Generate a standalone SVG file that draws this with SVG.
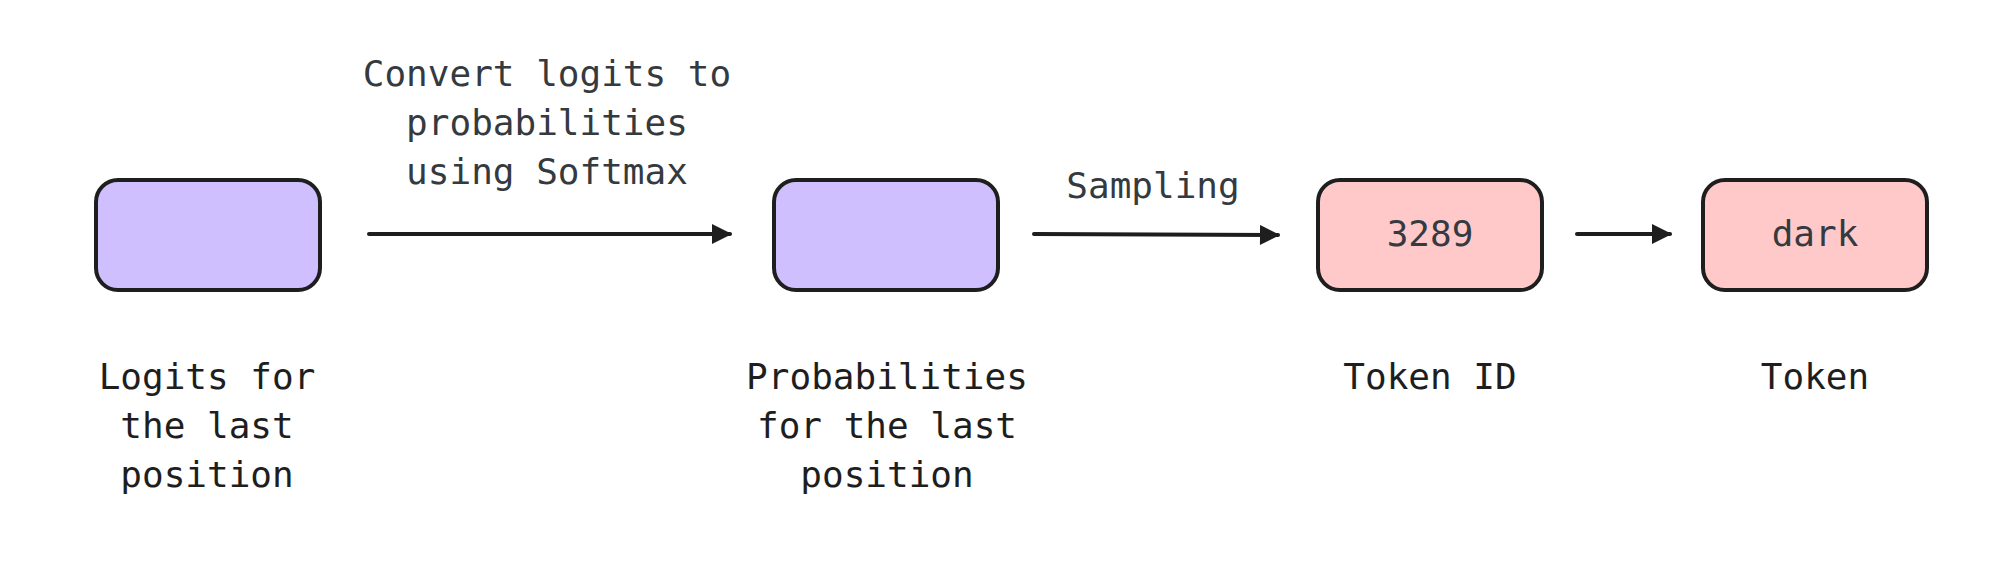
<svg xmlns="http://www.w3.org/2000/svg" width="2014" height="578" viewBox="0 0 2014 578">
<defs>
<style>
.box{stroke:#1e1e1e;stroke-width:4}
.violet{fill:#d0bfff}
.red{fill:#ffc9c9}
.t{font-family:"DejaVu Sans Mono","Liberation Mono",monospace;font-size:36px;text-anchor:middle}
.dark{fill:#1e1e1e}
.slate{fill:#343a40}
.conn{stroke:#1e1e1e;stroke-width:4;fill:none;stroke-linecap:round}
</style>
<marker id="ah" viewBox="0 0 10 10" refX="9" refY="5" markerWidth="5.5" markerHeight="5" orient="auto" markerUnits="strokeWidth">
<path d="M0,0 L10,5 L0,10 z" fill="#1e1e1e"/>
</marker>
</defs>
<rect width="2014" height="578" fill="#ffffff"/>
<g id="connectors">
<line class="conn" x1="369" y1="234" x2="730" y2="234" marker-end="url(#ah)"/>
<line class="conn" x1="1034" y1="234" x2="1278" y2="235" marker-end="url(#ah)"/>
<line class="conn" x1="1577" y1="234" x2="1670" y2="234" marker-end="url(#ah)"/>
<text class="t slate" x="547" y="86">Convert logits to</text>
<text class="t slate" x="547" y="135">probabilities</text>
<text class="t slate" x="547" y="184">using Softmax</text>
<text class="t slate" x="1153" y="198">Sampling</text>
</g>
<g id="logits">
<rect class="box violet" x="96" y="180" width="224" height="110" rx="22"/>
<text class="t dark" x="207" y="389">Logits for</text>
<text class="t dark" x="207" y="438">the last</text>
<text class="t dark" x="207" y="487">position</text>
</g>
<g id="probabilities">
<rect class="box violet" x="774" y="180" width="224" height="110" rx="22"/>
<text class="t dark" x="887" y="389">Probabilities</text>
<text class="t dark" x="887" y="438">for the last</text>
<text class="t dark" x="887" y="487">position</text>
</g>
<g id="tokenid">
<rect class="box red" x="1318" y="180" width="224" height="110" rx="22"/>
<text class="t slate" x="1430" y="246">3289</text>
<text class="t dark" x="1430" y="389">Token ID</text>
</g>
<g id="token">
<rect class="box red" x="1703" y="180" width="224" height="110" rx="22"/>
<text class="t slate" x="1815" y="246">dark</text>
<text class="t dark" x="1815" y="389">Token</text>
</g>
</svg>
